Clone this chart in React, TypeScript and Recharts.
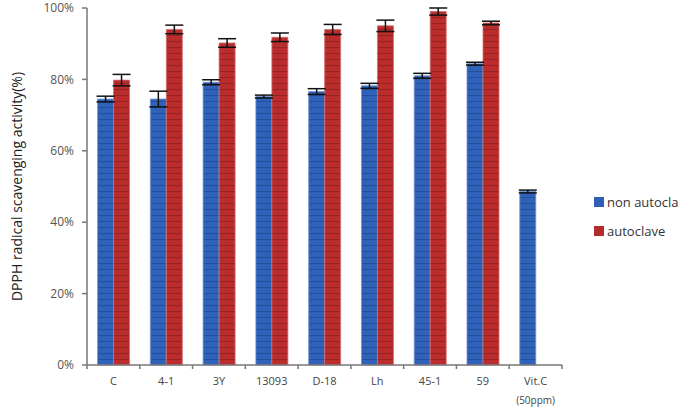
import React from "react";
import { BarChart, Bar, XAxis, YAxis, ErrorBar } from "recharts";

const categories = ["C", "4-1", "3Y", "13093", "D-18", "Lh", "45-1", "59", "Vit.C"];
const nonAutoclave = [74.5, 74.5, 79.2, 75.2, 76.6, 78.2, 81, 84.4, 48.6];
const nonAutoclaveErr = [0.8, 2.2, 0.7, 0.4, 0.8, 0.7, 0.7, 0.4, 0.4];
const autoclave = [79.8, 94, 90.2, 91.8, 94, 95, 99, 95.8, null];
const autoclaveErr = [1.6, 1.2, 1.2, 1.2, 1.4, 1.6, 1.0, 0.5, null];
const yTicks = [0, 20, 40, 60, 80, 100];

const data = categories.map((name, i) => ({
    name,
    blue: nonAutoclave[i],
    blueErr: nonAutoclaveErr[i],
    red: autoclave[i],
    redErr: autoclaveErr[i],
}));

const BAND = (562 - 87) / categories.length;
const FONT = "'Open Sans', sans-serif";

// category label, plus boundary tick marks like the excel axis
const XTick = (props: any) => {
    const { x, y, payload, index } = props;
    const isLast = index === categories.length - 1;
    return (
        <g>
            <line x1={x - BAND / 2} x2={x - BAND / 2} y1={y - 8} y2={y - 4} stroke="#777" strokeWidth={1.5} />
            {isLast && <line x1={x + BAND / 2} x2={x + BAND / 2} y1={y - 8} y2={y - 4} stroke="#777" strokeWidth={1.5} />}
            <text x={x} y={y + 12} textAnchor="middle" fontSize={11} fill="#444" fontFamily={FONT}>
                {payload.value}
            </text>
            {payload.value === "Vit.C" && (
                <text x={x} y={y + 31} textAnchor="middle" fontSize={10} fill="#444" fontFamily={FONT}>
                    (50ppm)
                </text>
            )}
        </g>
    );
};

const legendItems = [
    { label: "non autocla", color: "#2f5fb5" },
    { label: "autoclave", color: "#b52a2a" },
];

export default function App() {
    return (
        <div style={{ position: "absolute", left: 0, top: 0, width: 699, height: 411, background: "#fff" }}>
            <BarChart
                width={699}
                height={411}
                data={data}
                margin={{ top: 8, right: 137, left: 0, bottom: 0 }}
                barCategoryGap="20%"
                barGap={0}
            >
                <defs>
                    <pattern id="blueStripes" patternUnits="userSpaceOnUse" width={8} height={6}>
                        <rect width={8} height={6} fill="#2f62b8" />
                        <rect y={5} width={8} height={1} fill="#224f9c" />
                    </pattern>
                    <pattern id="redStripes" patternUnits="userSpaceOnUse" width={8} height={6}>
                        <rect width={8} height={6} fill="#bb2d2d" />
                        <rect y={5} width={8} height={1} fill="#962222" />
                    </pattern>
                </defs>
                <XAxis
                    dataKey="name"
                    height={46}
                    stroke="#777"
                    strokeWidth={1.5}
                    tickLine={false}
                    interval={0}
                    tick={<XTick />}
                />
                <YAxis
                    width={87}
                    domain={[0, 100]}
                    ticks={yTicks}
                    tickFormatter={(v) => `${v}%`}
                    stroke="#777"
                    strokeWidth={1.5}
                    tickSize={5}
                    tickMargin={8}
                    tick={{ fill: "#555", fontSize: 12, fontFamily: FONT }}
                    label={{
                        value: "DPPH radical scavenging activity(%)",
                        angle: -90,
                        position: "insideLeft",
                        dx: 12,
                        style: { fill: "#222", fontSize: 14, fontFamily: FONT, textAnchor: "middle" },
                    }}
                />
                <Bar dataKey="blue" fill="url(#blueStripes)" stroke="#6f93d6" strokeWidth={0.8} isAnimationActive={false}>
                    <ErrorBar dataKey="blueErr" width={9} stroke="#111" strokeWidth={1.5} />
                </Bar>
                <Bar dataKey="red" fill="url(#redStripes)" stroke="#d07070" strokeWidth={0.8} isAnimationActive={false}>
                    <ErrorBar dataKey="redErr" width={9} stroke="#111" strokeWidth={1.5} />
                </Bar>
            </BarChart>
            <div style={{ position: "absolute", left: 594, top: 187, fontFamily: FONT, fontSize: 13, color: "#333" }}>
                {legendItems.map((it) => (
                    <div key={it.label} style={{ display: "flex", alignItems: "center", height: 29 }}>
                        <span style={{ width: 10, height: 10, background: it.color, marginRight: 3 }} />
                        {it.label}
                    </div>
                ))}
            </div>
        </div>
    );
}
